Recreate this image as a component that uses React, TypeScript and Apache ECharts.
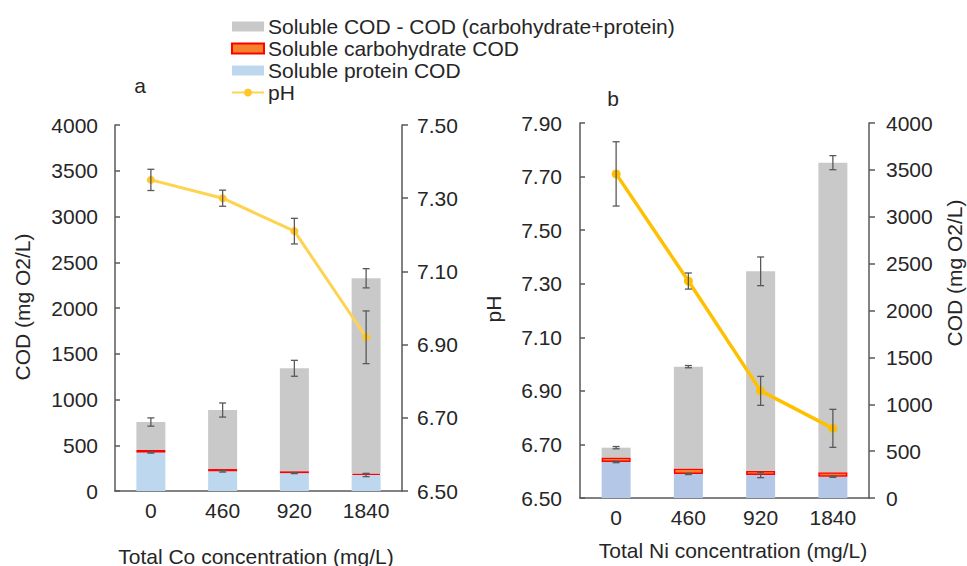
import React, { useEffect, useRef } from "react";
import * as echarts from "echarts";

const categories = ["0", "460", "920", "1840"];

// Panel a (Co)
const proteinA = [420, 215, 195, 175];
const carbA = [28, 25, 22, 15];
const totalA = [754, 885, 1341, 2325];
const totalErrA = [45, 77, 87, 105];
const proteinErrA = [6, 8, 5, 18];
const phA = [7.35, 7.3, 7.21, 6.92];
const phErrA = [0.029, 0.022, 0.035, 0.072];

// Panel b (Ni)
const proteinB = [385, 256, 245, 228];
const carbB = [48, 60, 46, 48];
const totalB = [537, 1401, 2418, 3577];
const totalErrB = [12, 12, 153, 75];
const proteinErrB = [8, 6, 28, 8];
const phB = [7.71, 7.31, 6.9, 6.76];
const phErrB = [0.12, 0.03, 0.054, 0.071];

const codTicks = { min: 0, max: 4000, interval: 500 };

const NAME_REST = "Soluble COD - COD (carbohydrate+protein)";
const NAME_CARB = "Soluble carbohydrate COD";
const NAME_PROT = "Soluble protein COD";
const NAME_PH = "pH";

const FONT = "'Liberation Sans', Arial, sans-serif";
const FS = 21;
const TXT = "#262626";
const AX = "#595959";

function errData(center: number[], err: number[]) {
  return center.map((v, i) => [i, v - err[i], v + err[i]]);
}

function errSeries(id: string, xi: number, yi: number, data: number[][]) {
  return {
    type: "custom",
    name: id,
    xAxisIndex: xi,
    yAxisIndex: yi,
    z: 10,
    encode: { x: 0, y: [1, 2] },
    data,
    renderItem: (_p: any, api: any) => {
      const x = api.value(0);
      const lo = api.coord([x, api.value(1)]);
      const hi = api.coord([x, api.value(2)]);
      const hw = 3.5;
      const style = { stroke: AX, lineWidth: 1.3 };
      return {
        type: "group",
        children: [
          { type: "line", shape: { x1: lo[0], y1: lo[1], x2: hi[0], y2: hi[1] }, style },
          { type: "line", shape: { x1: lo[0] - hw, y1: lo[1], x2: lo[0] + hw, y2: lo[1] }, style },
          { type: "line", shape: { x1: hi[0] - hw, y1: hi[1], x2: hi[0] + hw, y2: hi[1] }, style },
        ],
      };
    },
  };
}

function barSeries(stack: string, xi: number, yi: number, prot: number[], carb: number[], total: number[], protColor: string) {
  const rest = total.map((t, i) => t - prot[i] - carb[i]);
  return [
    {
      type: "bar",
      name: NAME_PROT,
      stack,
      xAxisIndex: xi,
      yAxisIndex: yi,
      barWidth: 29,
      itemStyle: { color: protColor },
      data: prot,
    },
    {
      type: "bar",
      name: NAME_CARB,
      stack,
      xAxisIndex: xi,
      yAxisIndex: yi,
      barWidth: 29,
      itemStyle: { color: "#f4822c", borderColor: "#ff0000", borderWidth: 1.5 },
      data: carb,
    },
    {
      type: "bar",
      name: NAME_REST,
      stack,
      xAxisIndex: xi,
      yAxisIndex: yi,
      barWidth: 29,
      itemStyle: { color: "#c9c9c9" },
      data: rest,
    },
  ];
}

const labelStyle = { color: TXT, fontSize: FS, fontFamily: FONT };
const plain = (v: number) => String(v);
const two = (v: number) => v.toFixed(2);

export default function App() {
  const ref = useRef<HTMLDivElement>(null);
  useEffect(() => {
    if (!ref.current) return;
    const chart = echarts.init(ref.current, null, { renderer: "svg" });
    const txt = (text: string, x: number, y: number, rot = 0) => ({
      type: "text",
      x,
      y,
      rotation: rot,
      style: { text, fill: TXT, font: `${FS}px ${FONT}`, textAlign: "center", textVerticalAlign: "middle" },
    });
    const option: any = {
      animation: false,
      backgroundColor: "#ffffff",
      textStyle: { fontFamily: FONT },
      legend: {
        orient: "vertical",
        left: 226,
        top: 11,
        itemWidth: 32,
        itemHeight: 10,
        itemGap: 1,
        textStyle: { color: TXT, fontSize: FS, fontFamily: FONT, padding: [0, 0, 0, -1] },
        data: [
          { name: NAME_REST, icon: "rect" },
          { name: NAME_CARB, icon: "rect" },
          { name: NAME_PROT, icon: "rect" },
          { name: NAME_PH },
        ],
      },
      grid: [
        { left: 115, right: 565, top: 125, bottom: 75 },
        { left: 580, right: 98, top: 123, bottom: 68 },
      ],
      xAxis: [
        {
          type: "category",
          gridIndex: 0,
          data: categories,
          axisLine: { lineStyle: { color: AX, width: 1.5 } },
          axisTick: { show: false },
          axisLabel: { ...labelStyle, margin: 9 },
        },
        {
          type: "category",
          gridIndex: 1,
          data: categories,
          axisLine: { lineStyle: { color: AX, width: 1.5 } },
          axisTick: { show: false },
          axisLabel: { ...labelStyle, margin: 9 },
        },
      ],
      yAxis: [
        {
          type: "value",
          gridIndex: 0,
          position: "left",
          ...codTicks,
          splitLine: { show: false },
          axisLine: { show: true, lineStyle: { color: AX, width: 1.5 } },
          axisTick: { show: true, inside: true, length: 5, lineStyle: { color: AX, width: 1.5 } },
          axisLabel: { ...labelStyle, margin: 17, formatter: plain },
        },
        {
          type: "value",
          gridIndex: 0,
          position: "right",
          min: 6.5,
          max: 7.5,
          interval: 0.2,
          splitLine: { show: false },
          axisLine: { show: true, lineStyle: { color: AX, width: 1.5 } },
          axisTick: { show: true, length: 6, lineStyle: { color: AX, width: 1.5 } },
          axisLabel: { ...labelStyle, margin: 15, formatter: two },
        },
        {
          type: "value",
          gridIndex: 1,
          position: "left",
          min: 6.5,
          max: 7.9,
          interval: 0.2,
          splitLine: { show: false },
          axisLine: { show: true, lineStyle: { color: AX, width: 1.5 } },
          axisTick: { show: true, inside: true, length: 5, lineStyle: { color: AX, width: 1.5 } },
          axisLabel: { ...labelStyle, margin: 18, formatter: two },
        },
        {
          type: "value",
          gridIndex: 1,
          position: "right",
          ...codTicks,
          splitLine: { show: false },
          axisLine: { show: true, lineStyle: { color: AX, width: 1.5 } },
          axisTick: { show: true, length: 6, lineStyle: { color: AX, width: 1.5 } },
          axisLabel: { ...labelStyle, margin: 17, formatter: plain },
        },
      ],
      series: [
        ...barSeries("a", 0, 0, proteinA, carbA, totalA, "#bdd7ee"),
        errSeries("errTotA", 0, 0, errData(totalA, totalErrA)),
        errSeries("errProtA", 0, 0, errData(proteinA, proteinErrA)),
        {
          type: "line",
          name: NAME_PH,
          xAxisIndex: 0,
          yAxisIndex: 1,
          z: 8,
          data: phA,
          symbol: "circle",
          symbolSize: 8,
          lineStyle: { color: "#ffd34f", width: 3 },
          itemStyle: { color: "#ffc72c" },
        },
        errSeries("errPhA", 0, 1, errData(phA, phErrA)),
        ...barSeries("b", 1, 3, proteinB, carbB, totalB, "#b4c7e7"),
        errSeries("errTotB", 1, 3, errData(totalB, totalErrB)),
        errSeries("errProtB", 1, 3, errData(proteinB, proteinErrB)),
        {
          type: "line",
          name: NAME_PH,
          xAxisIndex: 1,
          yAxisIndex: 2,
          z: 8,
          data: phB,
          symbol: "circle",
          symbolSize: 9,
          lineStyle: { color: "#ffc000", width: 3.5 },
          itemStyle: { color: "#ffc000" },
        },
        errSeries("errPhB", 1, 2, errData(phB, phErrB)),
      ],
      graphic: [
        txt("a", 140, 85),
        txt("b", 613, 98),
        txt("COD (mg O2/L)", 22, 307, Math.PI / 2),
        txt("pH", 493, 309, Math.PI / 2),
        txt("COD (mg O2/L)", 954, 273, Math.PI / 2),
        txt("Total Co concentration (mg/L)", 256, 556),
        txt("Total Ni concentration (mg/L)", 733, 550),
      ],
    };
    chart.setOption(option);
    return () => chart.dispose();
  }, []);
  return (
    <div
      ref={ref}
      style={{ position: "fixed", left: 0, top: 0, width: 967, height: 566, background: "#fff" }}
    />
  );
}
